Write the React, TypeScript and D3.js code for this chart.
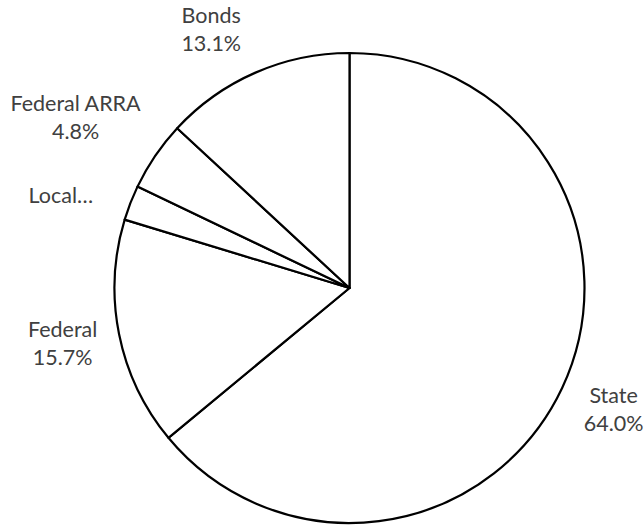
import React, { useEffect, useRef } from "react";
import * as d3 from "d3";

// Funding sources, clockwise from 12 o'clock
const categories = ["State", "Federal", "Local", "Federal ARRA", "Bonds"];
const shares = [64.0, 15.7, 2.4, 4.8, 13.1];
// Label text as shown on the chart (Local is truncated, no percentage)
const labelLines = [
  ["State", "64.0%"],
  ["Federal", "15.7%"],
  ["Local…"],
  ["Federal ARRA", "4.8%"],
  ["Bonds", "13.1%"],
];

// Best-fit tweaks for the crowded upper-left labels (pixels)
const labelNudge: Record<string, [number, number]> = {
  State: [0, -3],
  Federal: [0, -2],
  Local: [-20, 12],
  "Federal ARRA": [-7, 11],
  Bonds: [-22, 8],
};

const W = 644;
const H = 525;
const CX = 349.5;
const CY = 288;
const R = 235;
const FONT = "Lato, 'Open Sans', sans-serif";
const FONT_SIZE = 21.5;
const LINE_H = 28;
const GAP = 18;

export default function App() {
  const ref = useRef<SVGSVGElement | null>(null);

  useEffect(() => {
    const svg = d3.select(ref.current);
    svg.selectAll("*").remove();

    const data = categories.map((c, i) => ({ name: c, value: shares[i], lines: labelLines[i] }));
    const pie = d3.pie<any>().sort(null).value((d) => d.value);
    const arcs = pie(data);
    const arc = d3.arc<any>().innerRadius(0).outerRadius(R);

    const g = svg.append("g").attr("transform", `translate(${CX},${CY})`);

    g.selectAll("path.slice")
      .data(arcs)
      .join("path")
      .attr("class", "slice")
      .attr("d", arc as any)
      .attr("fill", "#ffffff")
      .attr("stroke", "#000000")
      .attr("stroke-width", 2.2)
      .attr("stroke-linejoin", "round");

    // Labels placed just outside the rim along each slice's mid-angle
    arcs.forEach((a) => {
      const mid = (a.startAngle + a.endAngle) / 2;
      const ux = Math.sin(mid);
      const uy = -Math.cos(mid);
      const t = g
        .append("text")
        .attr("font-family", FONT)
        .attr("font-size", FONT_SIZE)
        .attr("fill", "#404040")
        .attr("text-anchor", "middle");
      const lines: string[] = a.data.lines;
      lines.forEach((ln, i) => {
        t.append("tspan").attr("x", 0).attr("y", i * LINE_H).text(ln);
      });
      const node = t.node() as SVGTextElement;
      const bb = node.getBBox();
      const w = bb.width;
      const h = lines.length * LINE_H;
      const support = Math.abs(ux) * (w / 2) + Math.abs(uy) * (h / 2);
      const d = R + GAP + support;
      const [nx, ny] = labelNudge[a.data.name] || [0, 0];
      const cx = ux * d + nx;
      const cy = uy * d + ny;
      // first baseline sits so that the block is vertically centred on cy
      const top = cy - h / 2;
      const baseline0 = top + LINE_H * 0.5 + FONT_SIZE * 0.35;
      t.attr("transform", `translate(${cx},${baseline0})`);
    });
  }, []);

  return (
    <svg
      ref={ref}
      width={W}
      height={H}
      style={{ position: "absolute", left: 0, top: 0, background: "#ffffff" }}
    />
  );
}
